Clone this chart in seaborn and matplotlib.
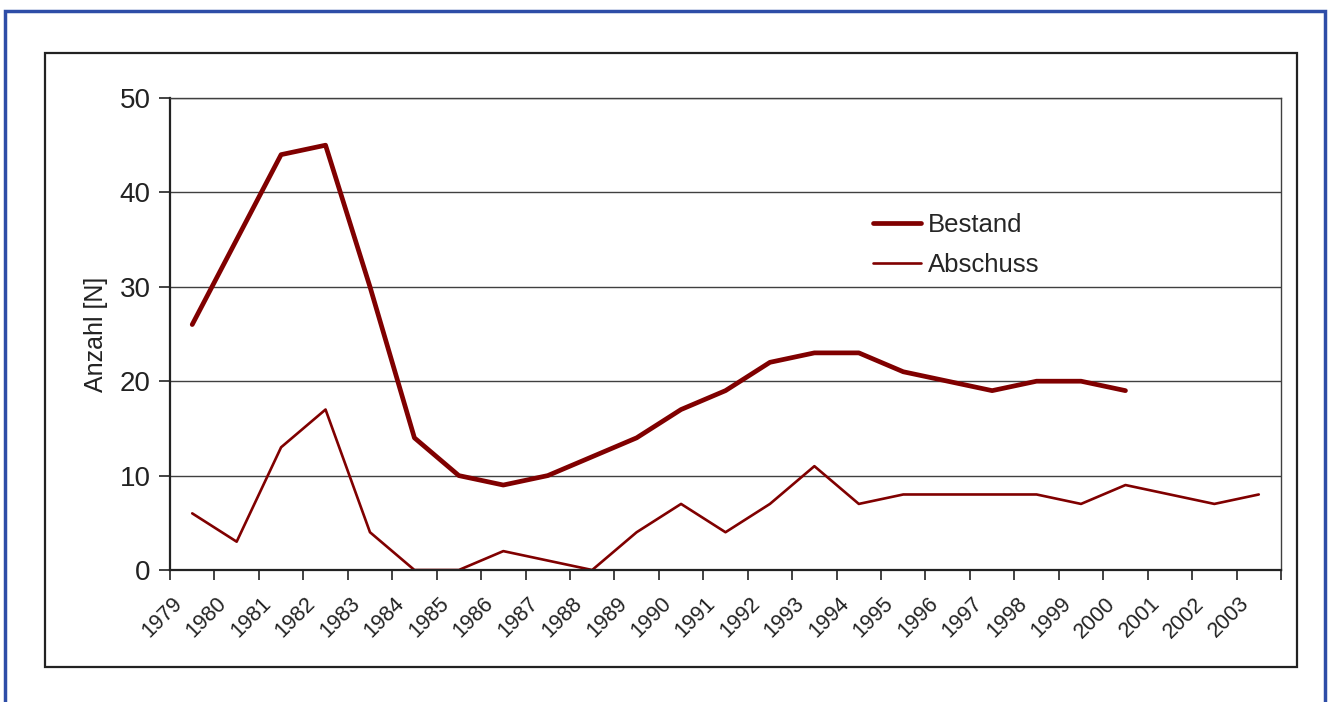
import matplotlib
matplotlib.use("Agg")
import matplotlib.pyplot as plt
import matplotlib.transforms as mtransforms
from matplotlib.patches import Rectangle
import numpy as np
import pandas as pd
import seaborn as sns

years = [str(y) for y in range(1979, 2004)]
bestand = [26, 35, 44, 45, 30, 14, 10, 9, 10, 12, 14, 17, 19, 22, 23, 23, 21, 20, 19, 20, 20, 19,
           np.nan, np.nan, np.nan]
abschuss = [6, 3, 13, 17, 4, 0, 0, 2, 1, 0, 4, 7, 4, 7, 11, 7, 8, 8, 8, 8, 7, 9, 8, 7, 8]

sns.set_theme(style="white")
plt.rcParams['font.family'] = ['Liberation Sans', 'DejaVu Sans']

df = pd.DataFrame({
    'pos': list(range(len(years))) * 2,
    'wert': bestand + abschuss,
    'serie': ['Bestand'] * len(years) + ['Abschuss'] * len(years),
})

red = '#800000'
fig = plt.figure(figsize=(13.28, 7.02), dpi=100)
ax = fig.add_axes([170 / 1328, 1 - 570 / 702, (1281 - 170) / 1328, (570 - 98) / 702])

sns.lineplot(data=df, x='pos', y='wert', hue='serie', size='serie',
             sizes={'Bestand': 3.4, 'Abschuss': 1.9},
             palette={'Bestand': red, 'Abschuss': red}, ax=ax,
             solid_capstyle='round', solid_joinstyle='round')

# frames like the original (outer blue border, inner black chart frame)
fig.patches.append(Rectangle((5 / 1328, -0.05), 1320 / 1328, 1.05 - 11 / 702, transform=fig.transFigure,
                             fill=False, edgecolor='#2E4DA7', linewidth=2.5))
fig.patches.append(Rectangle((45 / 1328, 1 - 667 / 702), (1297 - 45) / 1328, (667 - 53) / 702,
                             transform=fig.transFigure, fill=False, edgecolor='#222222', linewidth=1.6))

ax.set_xlim(-0.5, len(years) - 0.5)
ax.set_ylim(0, 50)
ax.set_yticks([0, 10, 20, 30, 40, 50])
ax.yaxis.grid(True, color='#404040', linewidth=1.0)
ax.set_axisbelow(True)

ax.set_xticks(np.arange(len(years) + 1) - 0.5)
ax.set_xticklabels([])
ax.set_xticks(np.arange(len(years)), minor=True)
ax.set_xticklabels(years, minor=True)
ax.tick_params(axis='x', which='major', direction='out', length=7, width=1.2, color='#222222', bottom=True)
ax.tick_params(axis='x', which='minor', length=0, pad=22, labelsize=15.5, labelcolor='#222222')
ax.tick_params(axis='y', direction='out', length=8, width=1.2, color='#222222', left=True,
               labelsize=20, labelcolor='#222222', pad=6)
offset = mtransforms.ScaledTranslation(-13 / 100, 0, fig.dpi_scale_trans)
for lab in ax.get_xticklabels(minor=True):
    lab.set_rotation(45)
    lab.set_ha('right')
    lab.set_va('center')
    lab.set_rotation_mode('anchor')
    lab.set_transform(lab.get_transform() + offset)

for side in ['left', 'bottom']:
    ax.spines[side].set_color('#222222')
    ax.spines[side].set_linewidth(1.6)
for side in ['top', 'right']:
    ax.spines[side].set_color('#404040')
    ax.spines[side].set_linewidth(1.0)

ax.set_xlabel('')
ax.set_ylabel('Anzahl [N]', fontsize=18, color='#222222', labelpad=8)

ax.legend(handles=ax.get_legend_handles_labels()[0], labels=['Bestand', 'Abschuss'],
          loc='upper left', bbox_to_anchor=(0.612, 0.805), frameon=False, fontsize=18.5,
          handlelength=1.85, handletextpad=0.3, labelspacing=0.6)

fig.savefig('out.png', dpi=100, facecolor='white')
